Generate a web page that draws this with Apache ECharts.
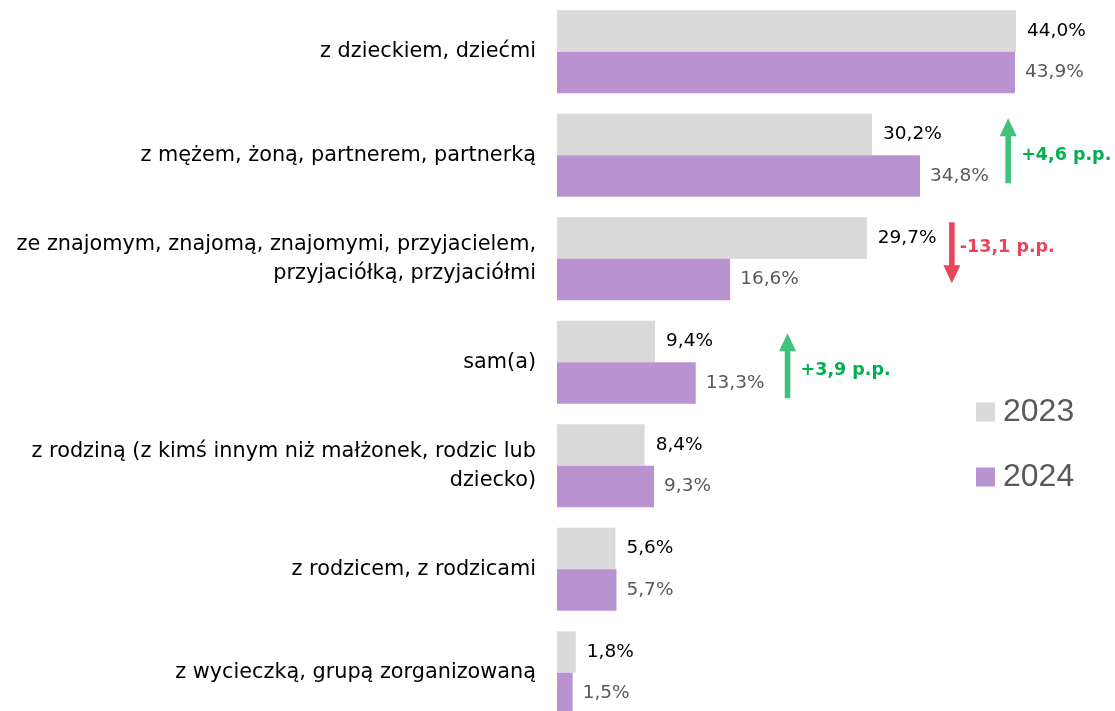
<!DOCTYPE html>
<html><head><meta charset="utf-8">
<script src="https://cdn.jsdelivr.net/npm/echarts@6/dist/echarts.min.js"></script>
<style>html,body{margin:0;padding:0;background:#fff}#c{width:1115px;height:711px}</style>
</head><body><div id="c"></div>
<script>
// ---- data ----
const categories = [
  'z dzieckiem, dziećmi',
  'z mężem, żoną, partnerem, partnerką',
  'ze znajomym, znajomą, znajomymi, przyjacielem,\nprzyjaciółką, przyjaciółmi',
  'sam(a)',
  'z rodziną (z kimś innym niż małżonek, rodzic lub\ndziecko)',
  'z rodzicem, z rodzicami',
  'z wycieczką, grupą zorganizowaną'
];
const seriesNames = ['2023', '2024'];
const values2023 = [44.0, 30.2, 29.7, 9.4, 8.4, 5.6, 1.8];
const values2024 = [43.9, 34.8, 16.6, 13.3, 9.3, 5.7, 1.5];
const changeLabels = ['+4,6 p.p.', '-13,1 p.p.', '+3,9 p.p.'];
const changeRows = [1, 2, 3];
const changeDirections = ['up', 'down', 'up'];

// ---- layout of annotations (not data) ----
const annLayout = [
  {xVal: 43.25, top: -37, bottom: 28, textDy: 0, textDx: 13, color: '#3FC27C', textColor: '#00B050'},
  {xVal: 37.85, top: -36.5, bottom: 24.5, textDy: -11.5, textDx: 8, color: '#E8465B', textColor: '#E8465B'},
  {xVal: 22.1, top: -29, bottom: 36, textDy: 8, textDx: 13, color: '#3FC27C', textColor: '#00B050'}
];

const fmt = v => v.toFixed(1).replace('.', ',') + '%';
const chart = echarts.init(document.getElementById('c'), null, {renderer: 'canvas'});

const option = {
  animation: false,
  backgroundColor: '#fff',
  grid: {left: 557, top: 0, width: 521.6, height: 724.5, outerBoundsMode: 'none', containLabel: false},
  xAxis: {type: 'value', min: 0, max: 50, show: false},
  yAxis: {
    type: 'category', inverse: true, data: categories,
    axisLine: {show: false}, axisTick: {show: false}, splitLine: {show: false},
    axisLabel: {fontFamily: 'DejaVu Sans', fontSize: 20.8, color: '#000', lineHeight: 29, margin: 21, align: 'right'}
  },
  legend: {
    data: seriesNames, orient: 'vertical', left: 971, top: 391,
    itemWidth: 19, itemHeight: 19, itemGap: 33, icon: 'rect',
    textStyle: {fontFamily: 'Liberation Sans', fontSize: 32, color: '#595959', padding: [0, 0, 0, 3]}
  },
  series: [
    {name: seriesNames[0], type: 'bar', data: values2023, barGap: 0, barCategoryGap: '20%',
     itemStyle: {color: '#D9D9D9'},
     label: {show: true, position: 'right', distance: 11, fontFamily: 'DejaVu Sans', fontSize: 18.5, color: '#000', formatter: p => fmt(p.value)}},
    {name: seriesNames[1], type: 'bar', data: values2024, barGap: 0, barCategoryGap: '20%',
     itemStyle: {color: '#B893D0'},
     label: {show: true, position: 'right', distance: 10, fontFamily: 'DejaVu Sans', fontSize: 18.5, color: '#595959', formatter: p => fmt(p.value)}}
  ]
};
chart.setOption(option);

const graphics = [];
changeLabels.forEach((txt, i) => {
  const L = annLayout[i];
  const [x, yc] = chart.convertToPixel({gridIndex: 0}, [L.xVal, changeRows[i]]);
  const headLen = 18, headW = 8.5, shaftW = 2.8;
  let pts;
  if (changeDirections[i] === 'up') {
    const tip = yc + L.top, tail = yc + L.bottom, hb = tip + headLen;
    pts = [[x, tip], [x + headW, hb], [x + shaftW, hb], [x + shaftW, tail], [x - shaftW, tail], [x - shaftW, hb], [x - headW, hb]];
  } else {
    const tip = yc + L.bottom, tail = yc + L.top, hb = tip - headLen;
    pts = [[x, tip], [x + headW, hb], [x + shaftW, hb], [x + shaftW, tail], [x - shaftW, tail], [x - shaftW, hb], [x - headW, hb]];
  }
  graphics.push({type: 'polygon', shape: {points: pts}, style: {fill: L.color}, silent: true});
  graphics.push({type: 'text', x: x + L.textDx, y: yc + L.textDy,
    style: {text: txt, fill: L.textColor, fontFamily: 'DejaVu Sans', fontWeight: 'bold', fontSize: 17.5, verticalAlign: 'middle', align: 'left'}, silent: true});
});
chart.setOption({graphic: graphics});
</script>
</body></html>
